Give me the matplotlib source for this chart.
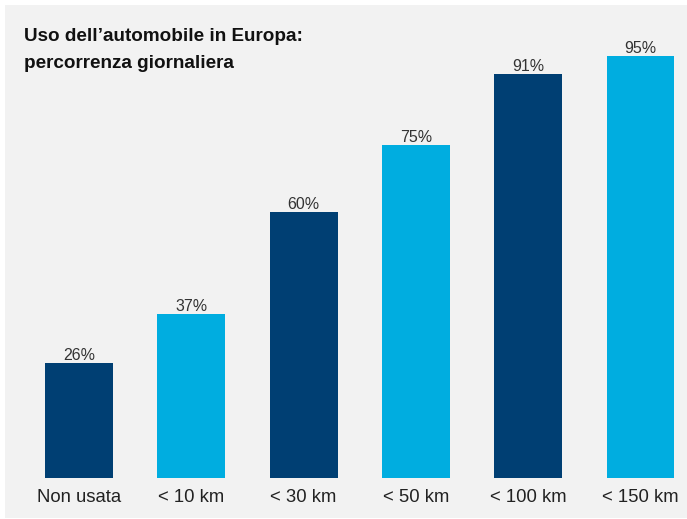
import matplotlib
matplotlib.use("Agg")
import matplotlib.pyplot as plt
from matplotlib.patches import Rectangle

categories = ["Non usata", "< 10 km", "< 30 km", "< 50 km", "< 100 km", "< 150 km"]
values = [26, 37, 60, 75, 91, 95]
labels = ["26%", "37%", "60%", "75%", "91%", "95%"]
colors = ["#003f73", "#00ade0", "#003f73", "#00ade0", "#003f73", "#00ade0"]
title = "Uso dell\u2019automobile in Europa:\npercorrenza giornaliera"

plt.rcParams['font.family'] = ['Liberation Sans', 'DejaVu Sans']

W, H = 687, 519
fig = plt.figure(figsize=(W / 100, H / 100), dpi=100, facecolor="white")
fig.patches.append(Rectangle((5 / W, 1 / H), (W - 5) / W, (H - 6) / H,
                             transform=fig.transFigure, facecolor="#f2f2f2",
                             edgecolor="none", zorder=-10))

base_px = 478
ax = fig.add_axes([0, (H - base_px) / H, 1, base_px / H])
ax.set_facecolor("none")
ax.set_zorder(5)
px_per_unit = 4.44
ax.set_ylim(0, base_px / px_per_unit)
c0, step = 79, 112.3
ax.set_xlim(-c0 / step, (W - c0) / step)

x = list(range(len(categories)))
ax.bar(x, values, width=0.605, color=colors, zorder=2)
for xi, v, lab in zip(x, values, labels):
    ax.annotate(lab, (xi, v), xytext=(0, 0), textcoords="offset points",
                ha="center", va="bottom", fontsize=11.5, color="#333333")

for xi, cat in zip(x, categories):
    ax.annotate(cat, (xi, 0), xytext=(0, -19 * 0.72), textcoords="offset points",
                ha="center", va="center", fontsize=13.3, color="#222222",
                annotation_clip=False)

ax.axis("off")

fig.text(24 / W, 1 - 28 / H, title, ha="left", va="top", fontsize=13.6,
         fontweight="bold", color="#111111", linespacing=1.75, zorder=6)

fig.savefig("out.png", dpi=100, facecolor=fig.get_facecolor())
